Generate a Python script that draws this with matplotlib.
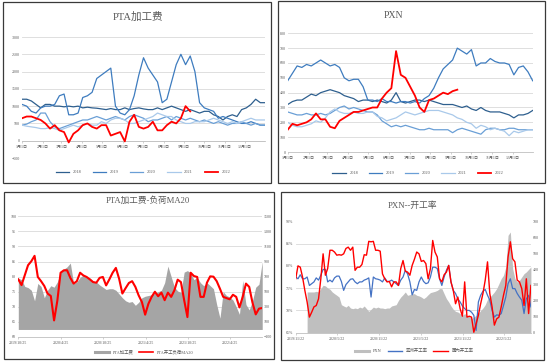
import numpy as np
import pandas as pd
import matplotlib
matplotlib.use('Agg')
import matplotlib.pyplot as plt
from matplotlib.patches import Rectangle
from matplotlib.lines import Line2D
from matplotlib.ticker import FixedLocator

plt.rcParams['font.family'] = ['Liberation Serif', 'Noto Sans CJK SC']

# ---------------- Panel 1: PTA加工费 (weekly, day-of-year) ----------------
month_labels = ['1月1日', '2月1日', '3月1日', '4月1日', '5月1日', '6月1日',
                '7月1日', '8月1日', '9月1日', '10月1日', '11月1日', '12月1日']
month_start_days = [0, 31, 59, 90, 120, 151, 181, 212, 243, 273, 304, 334]
year_labels = ['2018', '2019', '2020', '2021', '2022']

pta_fee_2018 = [1200, 1200, 1150, 1050, 950, 1050, 1050, 1000, 1000, 980,
                1000, 980, 1000, 950, 970, 950, 940, 920, 900, 930,
                900, 900, 950, 900, 930, 950, 920, 900, 900, 950,
                900, 950, 1000, 950, 900, 850, 900, 850, 800, 850,
                850, 750, 700, 600, 700, 750, 700, 900, 950, 1050,
                1200, 1100, 1100]
pta_fee_2019 = [1050, 1000, 850, 800, 950, 1000, 1000, 1050, 1300, 1350,
                750, 750, 800, 1250, 1300, 1400, 1800, 1900, 2000, 2100,
                1000, 800, 750, 900, 1300, 1900, 2400, 2100, 1900, 1700,
                1100, 1200, 1700, 2200, 2500, 2200, 2450, 2000, 1100, 950,
                900, 850, 650, 700, 650, 600, 550, 500, 500, 550,
                500, 450, 450]
pta_fee_2020 = [450, 480, 550, 600, 800, 800, 550, 400, 350, 400,
                450, 500, 550, 600, 600, 650, 700, 650, 600, 650,
                700, 650, 600, 700, 750, 700, 650, 550, 600, 600,
                650, 700, 600, 700, 650, 600, 650, 600, 550, 600,
                550, 500, 550, 500, 450, 500, 500, 550, 500, 450,
                500, 450, 450]
pta_fee_2021 = [450, 420, 400, 380, 350, 350, 380, 350, 300, 350,
                400, 450, 400, 450, 500, 450, 450, 550, 500, 600,
                650, 650, 600, 500, 500, 550, 600, 650, 700, 800,
                750, 700, 700, 600, 550, 500, 500, 550, 550, 550,
                600, 650, 600, 550, 500, 550, 500, 550, 600, 650,
                600, 600, 600]
pta_fee_2022 = [650, 700, 700, 650, 600, 500, 350, 450, 300, 250,
                -50, 200, 300, 450, 500, 400, 350, 450, 450, 150,
                200, 250, -20, 550, 750, 400, 350, 400, 550, 300,
                300, 450, 550, 500, 650, 1000, 850]

# ---------------- Panel 2: PXN ----------------
pxn_2018 = [320, 340, 350, 350, 370, 390, 380, 400, 410, 420,
            410, 400, 380, 370, 360, 340, 350, 350, 340, 350,
            340, 330, 350, 400, 340, 330, 340, 350, 350, 340,
            350, 340, 330, 320, 320, 320, 310, 300, 310, 290,
            280, 300, 280, 270, 270, 270, 260, 250, 230, 250,
            250, 260, 280]
pxn_2019 = [480, 530, 580, 570, 590, 580, 600, 620, 600, 580,
            590, 570, 500, 480, 490, 490, 440, 350, 350, 340,
            360, 340, 340, 330, 340, 340, 330, 340, 330, 360,
            380, 430, 500, 560, 590, 620, 700, 680, 660, 690,
            580, 600, 600, 630, 610, 600, 600, 590, 520, 570,
            580, 540, 480]
pxn_2020 = [270, 260, 250, 250, 260, 250, 250, 260, 250, 260,
            280, 300, 310, 290, 300, 290, 280, 270, 270, 250,
            210, 190, 170, 180, 170, 180, 170, 160, 150, 150,
            160, 150, 150, 150, 150, 130, 150, 160, 150, 140,
            130, 120, 150, 160, 160, 150, 150, 160, 160, 150,
            150, 150, 150]
pxn_2021 = [200, 180, 170, 170, 180, 190, 210, 200, 230, 270,
            290, 270, 260, 260, 270, 260, 260, 270, 270, 240,
            230, 210, 220, 230, 250, 270, 260, 250, 260, 270,
            280, 280, 280, 270, 260, 250, 230, 220, 200, 190,
            160, 180, 170, 150, 160, 150, 140, 110, 140, 130,
            140, 150, 150]
pxn_2022 = [150, 190, 180, 190, 200, 220, 260, 220, 220, 170,
            160, 210, 230, 250, 270, 270, 280, 290, 300, 300,
            360, 400, 430, 680, 520, 500, 440, 380, 300, 270,
            350, 360, 380, 400, 390, 410, 420]

# ---------------- Panel 3: PTA加工费-负荷MA20 (every 14 days from 2019-10-25) ----------------
p3_start = '2019-10-25'
p3_end = '2022-09-08'
p3_tick_labels = ['2019/10/25', '2020/4/25', '2020/10/25', '2021/4/25', '2021/10/25', '2022/4/25']
pta_load_ma20 = [79.1, 77.2, 80.5, 83.8, 85.1, 86.9, 79.9, 78.5, 76.9, 74.4,
                 73.6, 65.5, 72.0, 81.3, 82.1, 82.1, 79.6, 77.7, 78.5, 81.3,
                 80.4, 79.9, 79.1, 78.2, 78.0, 79.6, 79.9, 77.1, 79.1, 81.3,
                 82.9, 79.3, 74.4, 76.2, 77.9, 78.5, 76.6, 73.8, 71.6, 67.4,
                 71.0, 73.3, 75.0, 73.5, 74.7, 72.2, 74.7, 73.3, 75.5, 79.0,
                 78.2, 72.2, 66.6, 81.3, 80.2, 79.9, 73.3, 73.3, 78.0, 80.1,
                 80.0, 78.5, 76.0, 73.3, 72.9, 72.5, 74.0, 73.3, 69.8, 73.3,
                 77.7, 76.6, 71.4, 67.5, 69.4, 69.6]
pta_fee_hist = [680, 660, 570, 555, 520, 380, 610, 570, 420, 520,
                580, 560, 630, 750, 800, 830, 880, 610, 630, 690,
                720, 690, 680, 640, 630, 590, 560, 530, 540, 540,
                520, 470, 420, 380, 360, 370, 320, 360, 420, 440,
                450, 460, 480, 500, 520, 620, 840, 700, 560, 510,
                490, 760, 780, 750, 660, 690, 620, 580, 620, 580,
                540, 330, 150, 500, 450, 430, 390, 300, 200, 650,
                330, 260, 380, 560, 600, 900]

# ---------------- Panel 4: PXN--开工率 (every 10 days from 2019-11-22) ----------------
p4_start = '2019-11-22'
p4_pxn_start = '2020-01-11'
p4_end = '2022-09-17'
p4_tick_labels = ['2019/11/22', '2020/5/22', '2020/11/22', '2021/5/22', '2021/11/22', '2022/5/22']
domestic_rate = [77.1, 80.0, 79.7, 77.5, 74.5, 71.9, 68.5, 69.6, 70.8, 71.1,
                 72.6, 77.1, 82.7, 77.9, 79.4, 83.5, 83.5, 83.1, 82.4, 82.5,
                 82.4, 82.7, 83.9, 84.2, 83.5, 84.2, 79.0, 79.7, 79.7, 80.3,
                 82.5, 82.4, 85.5, 85.4, 85.5, 83.5, 83.5, 83.3, 78.2, 77.1,
                 76.4, 76.5, 75.3, 76.4, 76.4, 75.6, 79.4, 81.2, 78.8, 78.6,
                 77.9, 80.1, 81.5, 83.1, 82.7, 81.0, 81.2, 80.5, 77.1, 79.4,
                 85.7, 83.1, 82.0, 77.1, 76.4, 78.0, 78.6, 80.1, 76.4, 74.5,
                 71.5, 73.0, 70.4, 68.7, 76.4, 68.5, 68.7, 68.5, 65.1, 67.0,
                 68.9, 71.5, 73.8, 76.8, 80.9, 73.8, 70.8, 66.7, 68.1, 68.5,
                 70.8, 73.4, 75.6, 82.0, 85.4, 81.6, 80.9, 76.8, 76.4, 74.9,
                 71.1, 77.1, 69.3, 75.6]
asia_rate = [77.5, 77.1, 78.0, 77.1, 77.1, 77.5, 75.6, 76.0, 76.4, 77.3,
             76.8, 77.9, 79.2, 79.2, 76.4, 76.8, 76.4, 77.3, 77.7, 77.7,
             76.5, 74.5, 75.8, 76.4, 77.0, 77.1, 76.4, 76.0, 76.4, 76.4,
             76.8, 77.0, 77.3, 73.0, 77.5, 77.1, 77.0, 76.8, 76.4, 77.3,
             76.5, 76.5, 76.8, 76.4, 76.0, 75.6, 76.8, 77.5, 79.0, 78.2,
             76.4, 73.5, 74.7, 74.5, 76.4, 77.5, 76.5, 76.0, 76.2, 77.5,
             79.7, 79.7, 79.4, 77.1, 75.6, 77.5, 79.0, 80.1, 76.4, 74.5,
             73.8, 72.6, 71.9, 71.0, 70.4, 70.0, 70.0, 69.6, 68.9, 65.5,
             71.9, 73.4, 74.3, 74.7, 73.4, 72.3, 70.0, 68.5, 69.0, 68.9,
             69.3, 71.1, 73.0, 76.0, 77.1, 74.9, 74.9, 73.8, 73.0, 72.3,
             69.3, 72.6, 73.4, 70.8]
pxn_hist = [256, 256, 256, 256, 260, 256, 277, 298, 294, 281,
            273, 256, 245, 235, 224, 176, 168, 161, 172, 155,
            151, 155, 151, 161, 155, 168, 151, 134, 147, 161,
            155, 161, 155, 155, 151, 155, 155, 168, 172, 176,
            203, 224, 239, 256, 235, 239, 245, 245, 235, 231,
            224, 214, 224, 239, 252, 256, 260, 266, 277, 277,
            245, 214, 193, 168, 147, 134, 130, 120, 109, 120,
            109, 105, 88, 99, 109, 120, 140, 155, 176, 210,
            224, 239, 256, 277, 308, 340, 361, 413, 612, 633,
            403, 340, 319, 329, 350, 371, 382, 398, 413]

# ---------------- styling ----------------
W, H = 550, 364
TXT = '#595959'
GRID = '#D9D9D9'
TICK_FS = 2.9
LEG_FS = 3.2
blues = ['#2E5F8E', '#3E7CBF', '#6A9FD6', '#A9C9EA']
RED = '#FF0000'

fig = plt.figure(figsize=(W / 100, H / 100), dpi=100)
fig.patch.set_facecolor('white')


def rect(x0, y0, x1, y1):
    return [x0 / W, 1 - y1 / H, (x1 - x0) / W, (y1 - y0) / H]


def border(x0, y0, x1, y1):
    fig.patches.append(Rectangle((x0 / W, 1 - y1 / H), (x1 - x0) / W, (y1 - y0) / H,
                                 transform=fig.transFigure, fill=False,
                                 edgecolor='#3a3a3a', lw=0.9, zorder=10))


def style(ax):
    for s in ['top', 'right', 'left']:
        ax.spines[s].set_visible(False)
    ax.spines['bottom'].set_color('#BFBFBF')
    ax.spines['bottom'].set_linewidth(0.6)
    ax.tick_params(axis='both', labelsize=TICK_FS, colors=TXT, length=0, pad=1.5)
    ax.tick_params(axis='x', length=1.5, width=0.5, color='#BFBFBF')
    ax.grid(axis='y', color=GRID, lw=0.6)
    ax.set_axisbelow(True)


def style_twin(ax):
    for s in ['top', 'right', 'left', 'bottom']:
        ax.spines[s].set_visible(False)
    ax.tick_params(axis='y', labelsize=TICK_FS, colors=TXT, length=0, pad=1.5)


def title(txt, x, y, fs):
    fig.text(x / W, 1 - y / H, txt, ha='center', va='center', fontsize=fs, color=TXT)


# Panel borders
border(3, 2, 271, 183)
border(278, 0.5, 545, 183)
border(4, 192, 274, 359)
border(281, 192, 544, 360)

# ---- Panel 1 ----
ax1 = fig.add_axes(rect(22, 37, 265, 158))
p1_series = [pta_fee_2018, pta_fee_2019, pta_fee_2020, pta_fee_2021]
handles = []
for vals, c, lab in zip(p1_series, blues, year_labels[:4]):
    d = np.arange(len(vals)) * 7
    h, = ax1.plot(d, vals, color=c, lw=0.9, label=lab)
    handles.append(h)
d = np.arange(len(pta_fee_2022)) * 7
h, = ax1.plot(d, pta_fee_2022, color=RED, lw=1.3, label=year_labels[4], zorder=5)
handles.append(h)
ax1.set_xlim(0, 364)
ax1.set_ylim(-500, 3000)
ax1.set_yticks(np.arange(-500, 3001, 500))
ax1.set_xticks(month_start_days)
ax1.set_xticklabels(month_labels)
style(ax1)
ax1.spines['bottom'].set_position(('data', 0))
ax1.legend(handles=handles, loc='center', bbox_to_anchor=(143 / W, 1 - 172 / H),
           bbox_transform=fig.transFigure, ncol=5, frameon=False, fontsize=LEG_FS,
           handlelength=3.0, handletextpad=0.8, columnspacing=2.6, labelcolor=TXT)
title('PTA加工费', 138, 17, 7.6)

# ---- Panel 2 ----
ax2 = fig.add_axes(rect(287.7, 33.3, 532.7, 152))
p2_series = [pxn_2018, pxn_2019, pxn_2020, pxn_2021]
handles = []
for vals, c, lab in zip(p2_series, blues, year_labels[:4]):
    d = np.arange(len(vals)) * 7
    h, = ax2.plot(d, vals, color=c, lw=0.9, label=lab)
    handles.append(h)
d = np.arange(len(pxn_2022)) * 7
h, = ax2.plot(d, pxn_2022, color=RED, lw=1.3, label=year_labels[4], zorder=5)
handles.append(h)
ax2.set_xlim(0, 364)
ax2.set_ylim(0, 800)
ax2.set_yticks(np.arange(0, 801, 100))
ax2.set_xticks(month_start_days)
ax2.set_xticklabels(month_labels)
style(ax2)
ax2.legend(handles=handles, loc='center', bbox_to_anchor=(418 / W, 1 - 173 / H),
           bbox_transform=fig.transFigure, ncol=5, frameon=False, fontsize=LEG_FS,
           handlelength=3.0, handletextpad=0.8, columnspacing=2.4, labelcolor=TXT)
title('PXN', 393, 16, 7.0)

# ---- Panel 3 ----
ax3a = fig.add_axes(rect(18.3, 216.3, 262, 337))
d3 = pd.date_range(p3_start, periods=len(pta_fee_hist), freq='14D')
ax3a.fill_between(d3, 0, pta_fee_hist, color='#A5A5A5', lw=0)
ax3a.set_ylim(-100, 1500)
ax3a.set_yticks(np.arange(-100, 1501, 200))
style(ax3a)
ax3l = ax3a.twinx()
ax3a.yaxis.tick_right()
ax3l.yaxis.tick_left()
d3l = pd.date_range(p3_start, periods=len(pta_load_ma20), freq='14D')
ax3l.plot(d3l, pta_load_ma20, color=RED, lw=1.5)
ax3l.set_ylim(60, 100)
ax3l.set_yticks(np.arange(60, 101, 5))
style_twin(ax3l)
ax3a.set_xlim(pd.Timestamp(p3_start), pd.Timestamp(p3_end))
ax3a.set_xticks(pd.to_datetime(p3_tick_labels, format='%Y/%m/%d'))
ax3a.set_xticklabels(p3_tick_labels)
h3 = [Line2D([], [], color='#A5A5A5', lw=2.2), Line2D([], [], color=RED, lw=1.2)]
ax3l.legend(h3, ['PTA加工费', 'PTA开工负荷MA20'], loc='center',
            bbox_to_anchor=(144 / W, 1 - 352 / H), bbox_transform=fig.transFigure,
            ncol=2, frameon=False, fontsize=LEG_FS, handlelength=3.2,
            handletextpad=0.8, columnspacing=1.2, labelcolor=TXT)
title('PTA加工费-负荷MA20', 148, 201, 6.2)

# ---- Panel 4 ----
ax4a = fig.add_axes(rect(295.7, 221.3, 530.9, 332.7))
d4p = pd.date_range(p4_pxn_start, periods=len(pxn_hist), freq='10D')
ax4a.fill_between(d4p, 0, pxn_hist, color='#BFBFBF', lw=0)
ax4a.set_ylim(0, 700)
ax4a.set_yticks(np.arange(0, 701, 100))
style(ax4a)
ax4a.grid(False)
ax4a.yaxis.set_minor_locator(FixedLocator([140, 280, 420, 560, 700]))
ax4a.grid(axis='y', which='minor', color=GRID, lw=0.6)
ax4a.tick_params(axis='y', which='minor', length=0)
ax4l = ax4a.twinx()
ax4a.yaxis.tick_right()
ax4l.yaxis.tick_left()
d4 = pd.date_range(p4_start, periods=len(domestic_rate), freq='10D')
ax4l.plot(d4, asia_rate, color='#4472C4', lw=0.9)
ax4l.plot(d4, domestic_rate, color=RED, lw=1.0)
ax4l.set_ylim(65, 90)
ax4l.set_yticks(np.arange(65, 91, 5))
ax4l.set_yticklabels([f'{v}%' for v in range(65, 91, 5)])
style_twin(ax4l)
ax4a.set_xlim(pd.Timestamp(p4_start), pd.Timestamp(p4_end))
ax4a.set_xticks(pd.to_datetime(p4_tick_labels, format='%Y/%m/%d'))
ax4a.set_xticklabels(p4_tick_labels)
h4 = [Line2D([], [], color='#BFBFBF', lw=2.2), Line2D([], [], color='#4472C4', lw=1.0),
      Line2D([], [], color=RED, lw=1.0)]
ax4l.legend(h4, ['PXN', '亚洲开工率', '国内开工率'], loc='center',
            bbox_to_anchor=(414 / W, 1 - 351 / H), bbox_transform=fig.transFigure,
            ncol=3, frameon=False, fontsize=LEG_FS, handlelength=3.2,
            handletextpad=0.8, columnspacing=1.4, labelcolor=TXT)
title('PXN--开工率', 412, 206, 6.3)

fig.savefig('out.png', dpi=100)
